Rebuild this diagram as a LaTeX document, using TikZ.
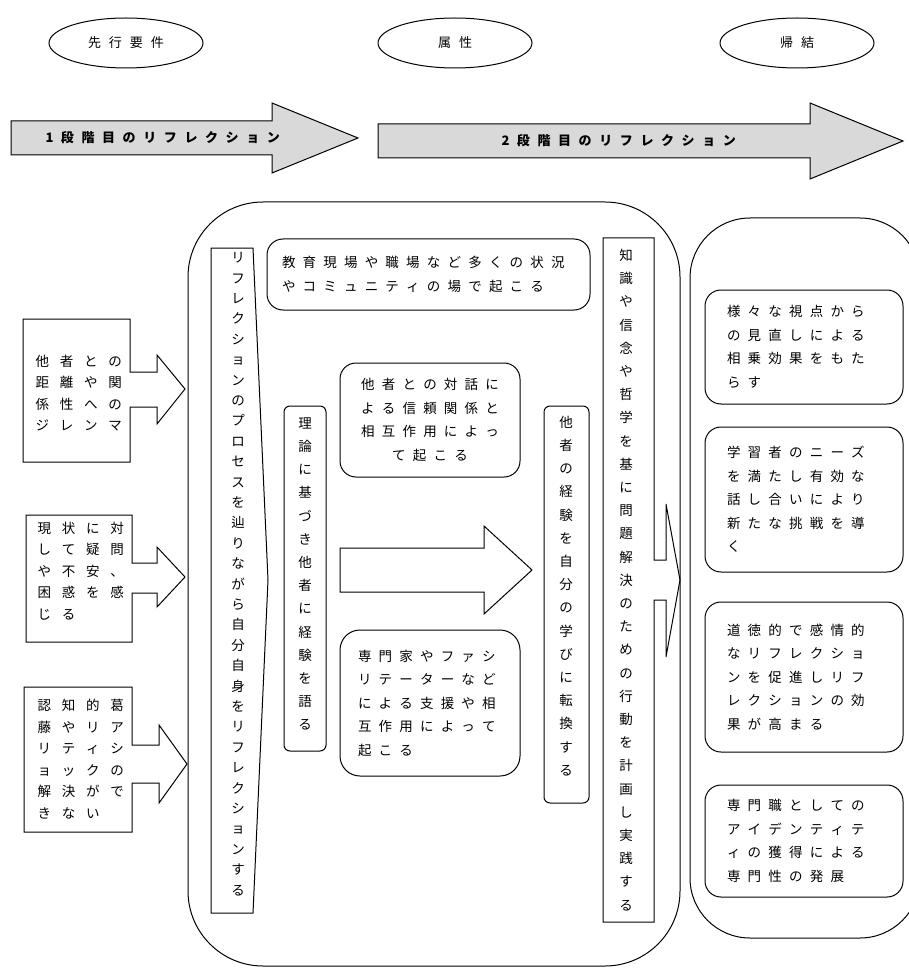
\documentclass[tikz,border=0pt]{standalone}
\usepackage{fontspec}
\usetikzlibrary{shapes.geometric}
\newfontfamily\jp{Noto Sans CJK JP}
% characters on a fixed pitch, and stacked for vertical text
\newlength\chpitch
\def\spaced#1{\spacedA#1\relax}
\def\spacedA#1#2{\ifx\relax#2#1\expandafter\spacedEnd\else\makebox[\chpitch][l]{#1}\expandafter\spacedA\fi#2}
\def\spacedEnd\relax{}
\def\tate#1{\tateA#1\relax}
\def\tateA#1#2{#1\ifx\relax#2\expandafter\tateEnd\else\expandafter\tateMore\fi#2}
\def\tateEnd\relax{}
\def\tateMore{\\\tateA}

\begin{document}
\begin{tikzpicture}[x=1pt, y=-1pt, line width=1pt, font=\jp]
  \tikzset{
    oval/.style={draw, ellipse, minimum width=154pt, minimum height=50pt, inner sep=0pt,
      font=\jp\fontsize{13}{16}\selectfont, execute at begin node={\setlength\chpitch{21pt}}},
    band/.style={anchor=west, inner sep=0pt, font=\jp\bfseries\fontsize{13}{16}\selectfont,
      execute at begin node={\setlength\chpitch{20.6pt}}},
    card/.style={draw, rounded corners=16pt, align=left, inner ysep=0pt,
      font=\jp\fontsize{13.5}{23.5}\selectfont, execute at begin node={\setlength\chpitch{20.7pt}}},
    cue/.style={anchor=west, align=left, text width=96pt, inner sep=0pt,
      font=\jp\fontsize{13.5}{21.5}\selectfont, execute at begin node={\setlength\chpitch{24.3pt}}},
    vtext/.style={align=center, inner sep=0pt, font=\jp\fontsize{13.5}{23.2}\selectfont},
    pillar/.style={draw, rounded corners=6pt}
  }
  \useasboundingbox (0,0) rectangle (908,968);

  % headings
  \node[oval] (prior) at (126,43) {\spaced{先行要件}};
  \node[oval] (attr) at (455,43) {\spaced{属性}};
  \node[oval] (result) at (797,43) {\spaced{帰結}};

  % stage arrows
  \draw[fill=black!15] (11,121) -- (272,121) -- (272,103) -- (358,138) -- (272,173) -- (272,155) -- (11,155) -- cycle;
  \draw[fill=black!15] (378,124) -- (810,124) -- (810,103) -- (903,141) -- (810,179) -- (810,158) -- (378,158) -- cycle;
  \node[band] (stage1) at (45,138) {1\hspace{7.5pt}\spaced{段階目のリフレクション}};
  \node[band] (stage2) at (501,141) {2\hspace{7.5pt}\spaced{段階目のリフレクション}};

  % frames
  \draw[rounded corners=75pt] (188,202) rectangle (680,966);
  \draw[rounded corners=60pt] (690,218) rectangle (920,938);

  % antecedents
  \draw (23,319) -- (130,319) -- (130,372) -- (157,372) -- (157,355) -- (185,389) -- (157,424)
    -- (157,407) -- (130,407) -- (130,462) -- (23,462) -- cycle;
  \node[cue] (dilemma) at (35,393) {\spaced{他者との}\\\spaced{距離や関}\\\spaced{係性への}\\\spaced{ジレンマ}};
  \draw (26,515) -- (132,515) -- (132,563) -- (157,563) -- (157,547) -- (185,577) -- (157,607)
    -- (157,593) -- (132,593) -- (132,642) -- (26,642) -- cycle;
  \node[cue] (doubt) at (37,571) {\spaced{現状に対}\\\spaced{して疑問}\\\spaced{や不安、}\\\spaced{困惑を感}\\\spaced{じる}};
  \draw (24,687) -- (132,687) -- (132,745) -- (159,745) -- (159,725) -- (187,764) -- (159,803)
    -- (159,783) -- (132,783) -- (132,832) -- (24,832) -- cycle;
  \node[cue] (conflict) at (37,759) {\spaced{認知的葛}\\\spaced{藤やリア}\\\spaced{リティシ}\\\spaced{ョックの}\\\spaced{解決がで}\\\spaced{きない}};

  % attributes
  \draw (211,248) -- (253,248) -- (268,580) -- (253,913) -- (211,913) -- cycle;
  \node[vtext, font=\jp\fontsize{13.5}{20.4}\selectfont] (process) at (238,574)
    {\tate{リフレクションのプロセスを辿りながら自分自身をリフレクションする}};
  \node[card, text width=293pt, inner xsep=15pt, minimum height=71pt] (scene) at (428.5,274.5)
    {\spaced{教育現場や職場など多くの状況}\\\spaced{やコミュニティの場で起こる}};
  \node[card, align=center, text width=160pt, inner xsep=10pt, minimum height=114pt] (dialog) at (430,420)
    {\spaced{他者との対話に}\\\spaced{よる信頼関係と}\\\spaced{相互作用によっ}\\\spaced{て起こる}};
  \node[card, text width=144pt, inner xsep=18pt, minimum height=146pt, rounded corners=20pt] (expert) at (430,703)
    {\spaced{専門家やファシ}\\\spaced{リテーターなど}\\\spaced{による支援や相}\\\spaced{互作用によって}\\\spaced{起こる}};
  \draw[pillar] (284,406) rectangle (326,751);
  \node[vtext] (theory) at (305,574) {\tate{理論に基づき他者に経験を語る}};
  \draw[fill=white] (340,548) -- (484,548) -- (484,526) -- (532,570) -- (484,614) -- (484,592) -- (340,592) -- cycle;
  \draw[pillar] (544,406) rectangle (589,803);
  \node[vtext] (transfer) at (566,596) {\tate{他者の経験を自分の学びに転換する}};
  \draw (603,238) -- (654,238) -- (654,560) -- (666,560) -- (666,504) -- (680,580) -- (666,657)
    -- (666,600) -- (654,600) -- (654,922) -- (603,922) -- cycle;
  \node[vtext] (action) at (626,580) {\tate{知識や信念や哲学を基に問題解決のための行動を計画し実践する}};

  % consequences
  \node[card, text width=154pt, inner xsep=22pt, minimum height=114pt] (synergy) at (804,347)
    {\spaced{様々な視点から}\\\spaced{の見直しによる}\\\spaced{相乗効果をもた}\\\spaced{らす}};
  \node[card, text width=154pt, inner xsep=22pt, minimum height=145pt] (needs) at (804,499.5)
    {\spaced{学習者のニーズ}\\\spaced{を満たし有効な}\\\spaced{話し合いにより}\\\spaced{新たな挑戦を導}\\\spaced{く}};
  \node[card, text width=154pt, inner xsep=22pt, minimum height=150pt] (ethics) at (804,677)
    {\spaced{道徳的で感情的}\\\spaced{なリフレクショ}\\\spaced{ンを促進しリフ}\\\spaced{レクションの効}\\\spaced{果が高まる}};
  \node[card, text width=154pt, inner xsep=22pt, minimum height=112pt] (identity) at (804,841)
    {\spaced{専門職としての}\\\spaced{アイデンティテ}\\\spaced{ィの獲得による}\\\spaced{専門性の発展}};
\end{tikzpicture}
\end{document}
